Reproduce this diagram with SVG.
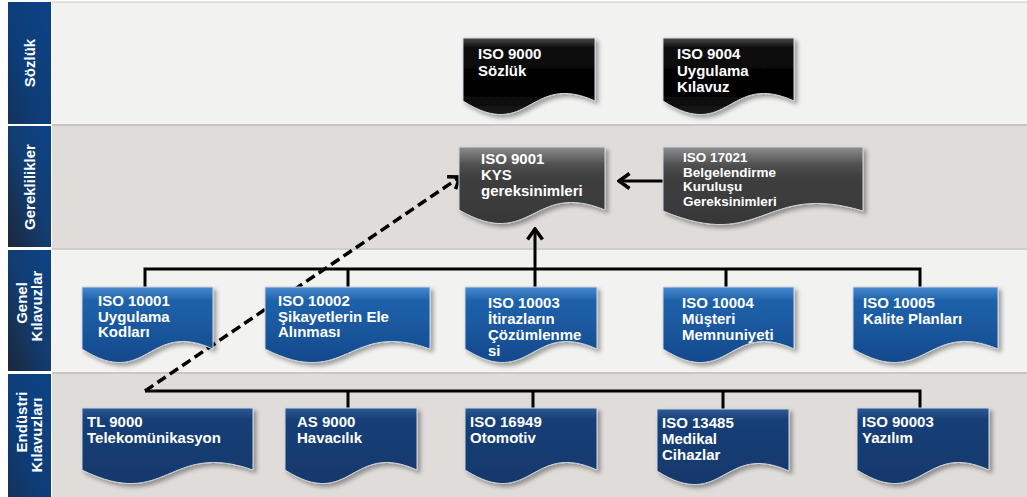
<svg xmlns="http://www.w3.org/2000/svg" width="1027" height="497" viewBox="0 0 1027 497">
  <style>
    .t { font-family: "Liberation Sans", Arial, sans-serif; font-weight: bold; font-size: 15px; fill: #ffffff; }
    .ts { font-size: 13.5px; }
    .lane { font-family: "Liberation Sans", Arial, sans-serif; font-weight: bold; font-size: 15px; fill: #ffffff; text-anchor: middle; }
    .doc { stroke: #cfd6de; stroke-width: 1; filter: url(#shadow); }
    .link { fill: none; stroke: #000000; stroke-width: 3; stroke-linejoin: miter; }
    .dash { stroke-width: 3.5; stroke-dasharray: 10 5; }
  </style>
  <defs>
    <filter id="shadow" x="-10%" y="-10%" width="125%" height="130%">
      <feDropShadow dx="3" dy="3" stdDeviation="2" flood-color="#000000" flood-opacity="0.35"/>
    </filter>
    <linearGradient id="gBlack" x1="0" y1="0" x2="0" y2="1">
      <stop offset="0" stop-color="#4a4a4a"/>
      <stop offset="0.13" stop-color="#0c0c0c"/>
      <stop offset="0.7" stop-color="#000000"/>
      <stop offset="1" stop-color="#1c1c1c"/>
    </linearGradient>
    <linearGradient id="gGray" x1="0" y1="0" x2="0" y2="1">
      <stop offset="0" stop-color="#8e8e8e"/>
      <stop offset="0.22" stop-color="#525252"/>
      <stop offset="0.38" stop-color="#3f3f3f"/>
      <stop offset="1" stop-color="#383838"/>
    </linearGradient>
    <linearGradient id="gBlue" x1="0" y1="0" x2="0" y2="1">
      <stop offset="0" stop-color="#4a8ad0"/>
      <stop offset="0.18" stop-color="#1f62ab"/>
      <stop offset="1" stop-color="#14498c"/>
    </linearGradient>
    <linearGradient id="gNavy" x1="0" y1="0" x2="0" y2="1">
      <stop offset="0" stop-color="#2d5b95"/>
      <stop offset="0.15" stop-color="#183f77"/>
      <stop offset="1" stop-color="#13386b"/>
    </linearGradient>
    <linearGradient id="gStrip" x1="0" y1="1" x2="1" y2="0">
      <stop offset="0" stop-color="#1c2738"/>
      <stop offset="0.5" stop-color="#123d72"/>
      <stop offset="1" stop-color="#0c4386"/>
    </linearGradient>
    <linearGradient id="gStripBlue" x1="0" y1="1" x2="1" y2="0">
      <stop offset="0" stop-color="#14325c"/>
      <stop offset="0.4" stop-color="#0d3d78"/>
      <stop offset="1" stop-color="#0c4386"/>
    </linearGradient>
    <marker id="chev" viewBox="0 0 14 18" refX="12" refY="9" markerWidth="14" markerHeight="18" markerUnits="userSpaceOnUse" orient="auto">
      <path d="M1.5,1.5 L12,9 L1.5,16.5" fill="none" stroke="#000000" stroke-width="3.5"/>
    </marker>
  </defs>

  <!-- swimlane backgrounds -->
  <g id="lanes">
    <rect x="0" y="0" width="1027" height="497" fill="#ffffff"/>
    <rect x="52" y="2" width="975" height="123" fill="#f2f2f0"/>
    <rect x="52" y="125" width="975" height="124" fill="#dfdcda"/>
    <rect x="52" y="249" width="975" height="124" fill="#f2f2f0"/>
    <rect x="52" y="373" width="975" height="124" fill="#dfdcda"/>
    <line x1="52" y1="2" x2="1027" y2="2" stroke="#d8d8d6" stroke-width="1.5"/>
    <line x1="52" y1="125" x2="1027" y2="125" stroke="#c9c6c4" stroke-width="2"/>
    <line x1="52" y1="249" x2="1027" y2="249" stroke="#d0cdcb" stroke-width="2"/>
    <line x1="52" y1="373" x2="1027" y2="373" stroke="#c9c6c4" stroke-width="2"/>

    <rect x="8" y="2" width="43" height="122" fill="url(#gStripBlue)"/>
    <rect x="8" y="126" width="43" height="121" fill="url(#gStrip)"/>
    <rect x="8" y="250" width="43" height="121" fill="url(#gStrip)"/>
    <rect x="8" y="374" width="43" height="123" fill="url(#gStripBlue)"/>

    <text class="lane" transform="translate(35,63) rotate(-90)">Sözlük</text>
    <text class="lane" transform="translate(35,187) rotate(-90)">Gereklilikler</text>
    <text class="lane" transform="translate(27,303) rotate(-90)">Genel</text>
    <text class="lane" transform="translate(42,306) rotate(-90)">Kılavuzlar</text>
    <text class="lane" transform="translate(27,422) rotate(-90)">Endüstri</text>
    <text class="lane" transform="translate(42,435) rotate(-90)">Kılavuzları</text>
  </g>

  <!-- connectors -->
  <g id="connectors">
    <!-- general guides bus -->
    <path class="link" d="M145,287 V269 H920 V287 M348,269 V287 M726,269 V287 M535,287 V269"/>
    <path class="link" d="M535,269 V229" marker-end="url(#chev)"/>
    <!-- industry guides bus -->
    <path class="link" d="M145,391 H920 V408 M348,391 V408 M533,391 V408 M723,391 V409"/>
    <!-- certification body to QMS -->
    <path class="link" d="M663,181 H619" marker-end="url(#chev)"/>
    <!-- industry guides to QMS -->
    <path class="link dash" d="M145,391 L460,177" marker-end="url(#chev)"/>
  </g>

  <!-- vocabulary row -->
  <g id="iso9000">
    <path class="doc" fill="url(#gBlack)" d="M463,38 H595 V101 C529,71 529,143 463,101 Z"/>
    <text class="t" x="478" y="59">ISO 9000<tspan x="478" dy="16.5">Sözlük</tspan></text>
  </g>
  <g id="iso9004">
    <path class="doc" fill="url(#gBlack)" d="M663,38 H794 V101 C728.5,71 728.5,143 663,101 Z"/>
    <text class="t" x="677" y="59">ISO 9004<tspan x="677" dy="16.5">Uygulama</tspan><tspan x="677" dy="16.5">Kılavuz</tspan></text>
  </g>

  <!-- requirements row -->
  <g id="iso9001">
    <path class="doc" fill="url(#gGray)" d="M459,147 H605 V210 C532,180 532,252 459,210 Z"/>
    <text class="t" x="481" y="164">ISO 9001<tspan x="481" dy="16">KYS</tspan><tspan x="481" dy="16">gereksinimleri</tspan></text>
  </g>
  <g id="iso17021">
    <path class="doc" fill="url(#gGray)" d="M663,147 H863 V211 C763,181 763,253 663,211 Z"/>
    <text class="t ts" x="683" y="162">ISO 17021<tspan x="683" dy="14.5">Belgelendirme</tspan><tspan x="683" dy="14.5">Kuruluşu</tspan><tspan x="683" dy="14.5">Gereksinimleri</tspan></text>
  </g>

  <!-- general guides row -->
  <g id="iso10001">
    <path class="doc" fill="url(#gBlue)" d="M82,287 H213 V349 C147.5,319 147.5,391 82,349 Z"/>
    <text class="t" x="98" y="306">ISO 10001<tspan x="98" dy="15.5">Uygulama</tspan><tspan x="98" dy="15.5">Kodları</tspan></text>
  </g>
  <g id="iso10002">
    <path class="doc" fill="url(#gBlue)" d="M265,287 H430 V349 C347.5,319 347.5,391 265,349 Z"/>
    <text class="t" x="278" y="306">ISO 10002<tspan x="278" dy="15.5">Şikayetlerin Ele</tspan><tspan x="278" dy="15.5">Alınması</tspan></text>
  </g>
  <g id="iso10003">
    <path class="doc" fill="url(#gBlue)" d="M465,287 H597 V349 C531,319 531,391 465,349 Z"/>
    <text class="t" x="488" y="308">ISO 10003<tspan x="488" dy="16">İtirazların</tspan><tspan x="488" dy="16">Çözümlenme</tspan><tspan x="488" dy="16">si</tspan></text>
  </g>
  <g id="iso10004">
    <path class="doc" fill="url(#gBlue)" d="M663,287 H794 V349 C728.5,319 728.5,391 663,349 Z"/>
    <text class="t" x="682" y="308">ISO 10004<tspan x="682" dy="16">Müşteri</tspan><tspan x="682" dy="16">Memnuniyeti</tspan></text>
  </g>
  <g id="iso10005">
    <path class="doc" fill="url(#gBlue)" d="M853,287 H998 V349 C925.5,319 925.5,391 853,349 Z"/>
    <text class="t" x="863" y="308">ISO 10005<tspan x="863" dy="16">Kalite Planları</tspan></text>
  </g>

  <!-- industry guides row -->
  <g id="tl9000">
    <path class="doc" fill="url(#gNavy)" d="M82,408 H253 V470 C167.5,440 167.5,512 82,470 Z"/>
    <text class="t" x="87" y="427">TL 9000<tspan x="87" dy="16">Telekomünikasyon</tspan></text>
  </g>
  <g id="as9000">
    <path class="doc" fill="url(#gNavy)" d="M285,408 H417 V470 C351,440 351,512 285,470 Z"/>
    <text class="t" x="297" y="427">AS 9000<tspan x="297" dy="16">Havacılık</tspan></text>
  </g>
  <g id="iso16949">
    <path class="doc" fill="url(#gNavy)" d="M465,408 H597 V470 C531,440 531,512 465,470 Z"/>
    <text class="t" x="470" y="427">ISO 16949<tspan x="470" dy="16">Otomotiv</tspan></text>
  </g>
  <g id="iso13485">
    <path class="doc" fill="url(#gNavy)" d="M657,409 H789 V471 C723,441 723,513 657,471 Z"/>
    <text class="t" x="662" y="428">ISO 13485<tspan x="662" dy="16">Medikal</tspan><tspan x="662" dy="16">Cihazlar</tspan></text>
  </g>
  <g id="iso90003">
    <path class="doc" fill="url(#gNavy)" d="M857,408 H989 V470 C923,440 923,512 857,470 Z"/>
    <text class="t" x="862" y="427">ISO 90003<tspan x="862" dy="16">Yazılım</tspan></text>
  </g>
</svg>
